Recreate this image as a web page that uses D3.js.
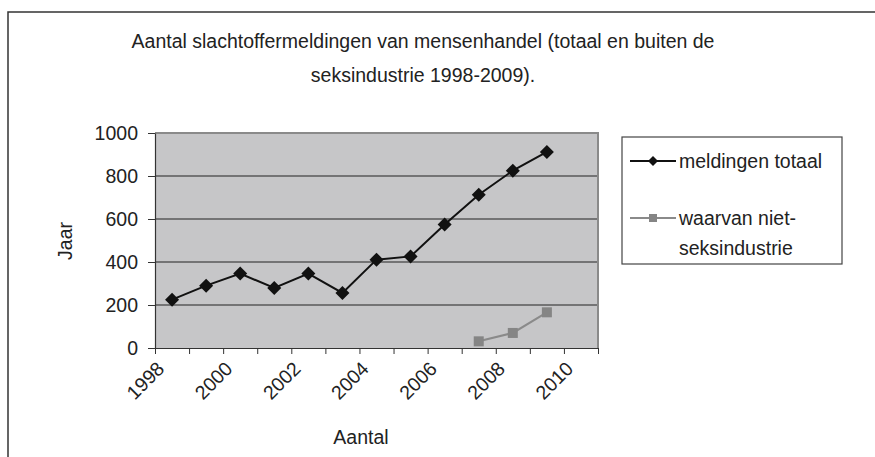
<!DOCTYPE html>
<html>
<head>
<meta charset="utf-8">
<script src="https://cdn.jsdelivr.net/npm/d3@7"></script>
<style>
  body { margin: 0; background: #fff; }
  text { font-family: "Liberation Sans", Arial, sans-serif; fill: #222; }
</style>
</head>
<body>
<script>
// data
let years = [1998, 1999, 2000, 2001, 2002, 2003, 2004, 2005, 2006, 2007, 2008, 2009]
let totaal = [225, 290, 346, 279, 346, 256, 411, 426, 574, 713, 825, 912]
let nietSeksYears = [2007, 2008, 2009]
let nietSeks = [31, 70, 166]
let yTicks = [0, 200, 400, 600, 800, 1000]
let xTicks = [1998, 1999, 2000, 2001, 2002, 2003, 2004, 2005, 2006, 2007, 2008, 2009, 2010, 2011]
let xLabels = [1998, 2000, 2002, 2004, 2006, 2008, 2010]

let width = 875
let height = 457
let fs = "19.5px"

let svg = d3.select("body")
            .append("svg")
            .attr("width", width)
            .attr("height", height)

// outer frame (only top and left edges are in view)
svg.append("rect")
    .attr("x", 8).attr("y", 12)
    .attr("width", 900).attr("height", 500)
    .attr("fill", "none")
    .attr("stroke", "#333")
    .attr("stroke-width", 1.5)

// title, both lines centred
svg.append("text")
    .attr("x", 423).attr("y", 48)
    .attr("text-anchor", "middle")
    .style("font-size", fs)
    .text("Aantal slachtoffermeldingen van mensenhandel (totaal en buiten de")
svg.append("text")
    .attr("x", 423).attr("y", 82)
    .attr("text-anchor", "middle")
    .style("font-size", fs)
    .text("seksindustrie 1998-2009).")

let plot = { left: 155, right: 598, top: 133, bottom: 348 }

let xScale = d3.scaleLinear()
                .domain([1998, 2011])
                .range([plot.left, plot.right])

let yScale = d3.scaleLinear()
                .domain([0, 1000])
                .range([plot.bottom, plot.top])

svg.append("rect")
    .attr("x", plot.left).attr("y", plot.top)
    .attr("width", plot.right - plot.left)
    .attr("height", plot.bottom - plot.top)
    .attr("fill", "#c6c6c8")

// gridlines
svg.append("g")
    .selectAll("line")
    .data(yTicks.filter(d => d > 0 && d < 1000))
    .enter()
    .append("line")
    .attr("x1", plot.left).attr("x2", plot.right)
    .attr("y1", d => yScale(d)).attr("y2", d => yScale(d))
    .attr("stroke", "#222")
    .attr("stroke-width", 1.2)

// plot border top/right
svg.append("path")
    .attr("d", `M${plot.left},${plot.top}H${plot.right}V${plot.bottom}`)
    .attr("fill", "none")
    .attr("stroke", "#8a8a8a")
    .attr("stroke-width", 2)

// y axis
let yAxis = d3.axisLeft(yScale)
                .tickValues(yTicks)
                .tickFormat(d3.format("d"))
                .tickSize(7)
                .tickSizeOuter(0)
svg.append("g")
    .attr("id", "y-axis")
    .attr("transform", "translate(" + plot.left + ",0)")
    .call(yAxis)
    .call(g => g.select(".domain").attr("stroke", "#333").attr("stroke-width", 1.2))
    .call(g => g.selectAll(".tick line").attr("stroke", "#333"))
    .call(g => g.selectAll(".tick text")
                .attr("x", -17)
                .style("font-size", fs)
                .style("font-family", "Liberation Sans, Arial, sans-serif")
                .attr("fill", "#222"))

// x axis
let xAxis = d3.axisBottom(xScale)
                .tickValues(xTicks)
                .tickSize(6)
                .tickSizeOuter(0)
                .tickFormat(d => xLabels.includes(d) ? d : "")
svg.append("g")
    .attr("id", "x-axis")
    .attr("transform", "translate(0," + plot.bottom + ")")
    .call(xAxis)
    .call(g => g.select(".domain").attr("stroke", "#333").attr("stroke-width", 1.2))
    .call(g => g.selectAll(".tick line").attr("stroke", "#333"))
    .call(g => g.selectAll(".tick text")
                .attr("text-anchor", "end")
                .attr("dy", null)
                .attr("y", null)
                .attr("transform", "translate(10,22) rotate(-45)")
                .style("font-size", fs)
                .style("font-family", "Liberation Sans, Arial, sans-serif")
                .attr("fill", "#222"))

// axis titles
svg.append("text")
    .attr("transform", "translate(72,241) rotate(-90)")
    .attr("text-anchor", "middle")
    .style("font-size", fs)
    .text("Jaar")
svg.append("text")
    .attr("x", 361).attr("y", 444)
    .attr("text-anchor", "middle")
    .style("font-size", fs)
    .text("Aantal")

// series (points sit mid-category)
let line = d3.line()
                .x(d => xScale(d[0] + 0.5))
                .y(d => yScale(d[1]))

let totaalData = years.map((y, i) => [y, totaal[i]])
let nietData = nietSeksYears.map((y, i) => [y, nietSeks[i]])

svg.append("path")
    .datum(nietData)
    .attr("d", line)
    .attr("fill", "none")
    .attr("stroke", "#8a8a8a")
    .attr("stroke-width", 2)

svg.selectAll(".sq")
    .data(nietData)
    .enter()
    .append("rect")
    .attr("class", "sq")
    .attr("x", d => xScale(d[0] + 0.5) - 5)
    .attr("y", d => yScale(d[1]) - 5)
    .attr("width", 10).attr("height", 10)
    .attr("fill", "#858585")

svg.append("path")
    .datum(totaalData)
    .attr("d", line)
    .attr("fill", "none")
    .attr("stroke", "#111")
    .attr("stroke-width", 2)

svg.selectAll(".dia")
    .data(totaalData)
    .enter()
    .append("path")
    .attr("class", "dia")
    .attr("transform", d => "translate(" + xScale(d[0] + 0.5) + "," + yScale(d[1]) + ")")
    .attr("d", "M0,-7L7,0L0,7L-7,0Z")
    .attr("fill", "#111")

// legend
let legend = svg.append("g")
legend.append("rect")
    .attr("x", 622).attr("y", 137)
    .attr("width", 220).attr("height", 127)
    .attr("fill", "#fff")
    .attr("stroke", "#444")
    .attr("stroke-width", 1.2)

legend.append("line")
    .attr("x1", 630).attr("x2", 676)
    .attr("y1", 161).attr("y2", 161)
    .attr("stroke", "#111").attr("stroke-width", 2)
legend.append("path")
    .attr("transform", "translate(653,161)")
    .attr("d", "M0,-5L5,0L0,5L-5,0Z")
    .attr("fill", "#111")
legend.append("text")
    .attr("x", 679).attr("y", 168)
    .style("font-size", fs)
    .text("meldingen totaal")

legend.append("line")
    .attr("x1", 630).attr("x2", 676)
    .attr("y1", 218).attr("y2", 218)
    .attr("stroke", "#8a8a8a").attr("stroke-width", 2)
legend.append("rect")
    .attr("x", 649).attr("y", 214)
    .attr("width", 8).attr("height", 8)
    .attr("fill", "#858585")
legend.append("text")
    .attr("x", 679).attr("y", 225)
    .style("font-size", fs)
    .text("waarvan niet-")
legend.append("text")
    .attr("x", 679).attr("y", 255)
    .style("font-size", fs)
    .text("seksindustrie")
</script>
</body>
</html>
